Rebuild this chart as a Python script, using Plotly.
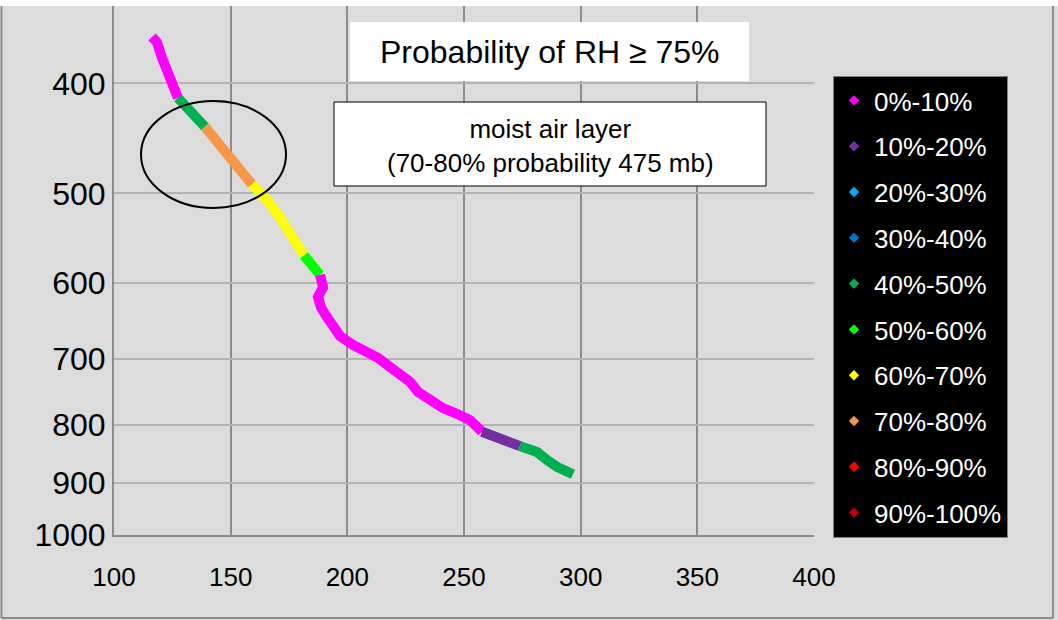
import plotly.graph_objects as go

# ---------------- data ----------------
bins = ["0%-10%", "10%-20%", "20%-30%", "30%-40%", "40%-50%",
        "50%-60%", "60%-70%", "70%-80%", "80%-90%", "90%-100%"]
bin_colors = ["#FF00FF", "#7030A0", "#00B0F0", "#0070C0", "#00B050",
              "#00FF00", "#FFFF00", "#F79646", "#FF0000", "#C00000"]

x_vals = [116.3, 118.4, 120.6, 122.7, 124.9, 127.4, 133.4, 139.0, 144.1, 149.7,
          155.3, 159.1, 165.6, 171.1, 176.7, 181.4, 184.9, 188.3, 189.1, 189.6,
          187.4, 188.7, 190.9, 193.9, 196.9, 202.4, 209.7, 213.1, 217.0, 222.6,
          226.9, 230.3, 235.4, 241.0, 247.0, 252.6, 255.6, 257.7, 264.1, 274.0,
          281.3, 285.6, 289.9, 296.7]
pressure = [364, 368, 380, 391, 401, 412, 425, 437, 450, 464,
            479, 491, 507, 525, 546, 567, 578, 590, 596, 605,
            617, 630, 641, 655, 668, 680, 690, 698, 708, 720,
            733, 748, 760, 773, 782, 792, 803, 811, 821, 835,
            845, 859, 871, 884]
# probability bin of each interval (point i -> point i+1)
interval_bin = (["0%-10%"] * 5 + ["40%-50%"] * 2 + ["70%-80%"] * 4 +
                ["60%-70%"] * 4 + ["50%-60%"] * 2 + ["0%-10%"] * 20 +
                ["10%-20%"] * 2 + ["40%-50%"] * 4)

x_ticks = [100, 150, 200, 250, 300, 350, 400]
y_ticks = [400, 500, 600, 700, 800, 900, 1000]

title_text = "Probability of RH \u2265 75%"
note_text = "moist air layer<br>(70-80% probability 475 mb)"

FONT = "Liberation Sans, Arial, sans-serif"
color_of = dict(zip(bins, bin_colors))

fig = go.Figure()

# legend entries
for b in bins:
    fig.add_trace(go.Scatter(
        x=[None], y=[None], mode="markers", name=b, legendgroup=b,
        marker=dict(symbol="diamond", size=8, color=color_of[b]),
        showlegend=True, hoverinfo="skip"))

# coloured profile segments (runs of the same bin)
runs = []
start = 0
for i in range(1, len(interval_bin) + 1):
    if i == len(interval_bin) or interval_bin[i] != interval_bin[start]:
        runs.append((interval_bin[start], start, i))
        start = i
for b, s, e in runs:
    fig.add_trace(go.Scatter(
        x=x_vals[s:e + 1], y=pressure[s:e + 1], mode="lines",
        line=dict(color=color_of[b], width=10), legendgroup=b,
        showlegend=False, name=b))

# pixel -> paper helpers (plot area 114..814 x, 6..535 y)
L, R, T, B = 114, 814, 6, 535
def px(p):
    return (p - L) / (R - L)
def py(p):
    return (B - p) / (B - T)

shapes = [
    # white strip at top
    dict(type="rect", xref="paper", yref="paper", x0=px(-5), x1=px(1065),
         y0=py(6), y1=py(-5), fillcolor="white", line=dict(width=0), layer="above"),
    # outer border
    dict(type="line", xref="paper", yref="paper", x0=px(1.5), x1=px(1.5),
         y0=py(6), y1=py(618), line=dict(color="#8C8C8C", width=2)),
    dict(type="line", xref="paper", yref="paper", x0=px(1053), x1=px(1053),
         y0=py(6), y1=py(618), line=dict(color="#8C8C8C", width=2)),
    dict(type="line", xref="paper", yref="paper", x0=px(1.5), x1=px(1053),
         y0=py(618), y1=py(618), line=dict(color="#8C8C8C", width=2)),
    # title box
    dict(type="rect", xref="paper", yref="paper", x0=px(350), x1=px(749),
         y0=py(81), y1=py(22), fillcolor="white", line=dict(width=0), layer="above"),
    # note box
    dict(type="rect", xref="paper", yref="paper", x0=px(334), x1=px(766),
         y0=py(186), y1=py(102), fillcolor="white",
         line=dict(color="black", width=1), layer="above"),
    # ellipse
    dict(type="circle", xref="paper", yref="paper", x0=px(141), x1=px(286),
         y0=py(208), y1=py(101), line=dict(color="black", width=2), layer="above"),
]

annotations = [
    dict(xref="paper", yref="paper", x=px(549.5), y=py(51.5), text=title_text,
         showarrow=False, xanchor="center", yanchor="middle",
         font=dict(family=FONT, size=32, color="black")),
    dict(xref="paper", yref="paper", x=px(550), y=py(146), text=note_text,
         showarrow=False, xanchor="center", yanchor="middle",
         font=dict(family=FONT, size=26, color="black")),
]

fig.update_layout(
    width=1058, height=620,
    margin=dict(l=L, r=1058 - R, t=T, b=620 - B, pad=0),
    paper_bgcolor="#DCDCDC", plot_bgcolor="#DCDCDC",
    font=dict(family=FONT, color="black"),
    shapes=shapes, annotations=annotations,
    showlegend=True,
    legend=dict(x=px(833), y=py(76), xanchor="left", yanchor="top",
                bgcolor="black", bordercolor="#808080", borderwidth=1,
                font=dict(family=FONT, size=26, color="white"),
                traceorder="grouped", tracegroupgap=9),
    xaxis=dict(range=[100, 400], tickvals=x_ticks, ticktext=[str(v) for v in x_ticks],
               showgrid=True, gridcolor="#8C8C8C", gridwidth=2,
               showline=True, linecolor="#8C8C8C", linewidth=2,
               zeroline=False, ticks="", ticklabelstandoff=18,
               tickfont=dict(family=FONT, size=26, color="black")),
    yaxis=dict(type="log", range=[3, 2.5339], tickvals=y_ticks,
               ticktext=[str(v) for v in y_ticks],
               showgrid=True, gridcolor="#B4B4B4", gridwidth=2,
               showline=True, linecolor="#8C8C8C", linewidth=2,
               zeroline=False, ticks="", ticklabelstandoff=0,
               tickfont=dict(family=FONT, size=32, color="black")),
)

fig.write_html("out.html")
